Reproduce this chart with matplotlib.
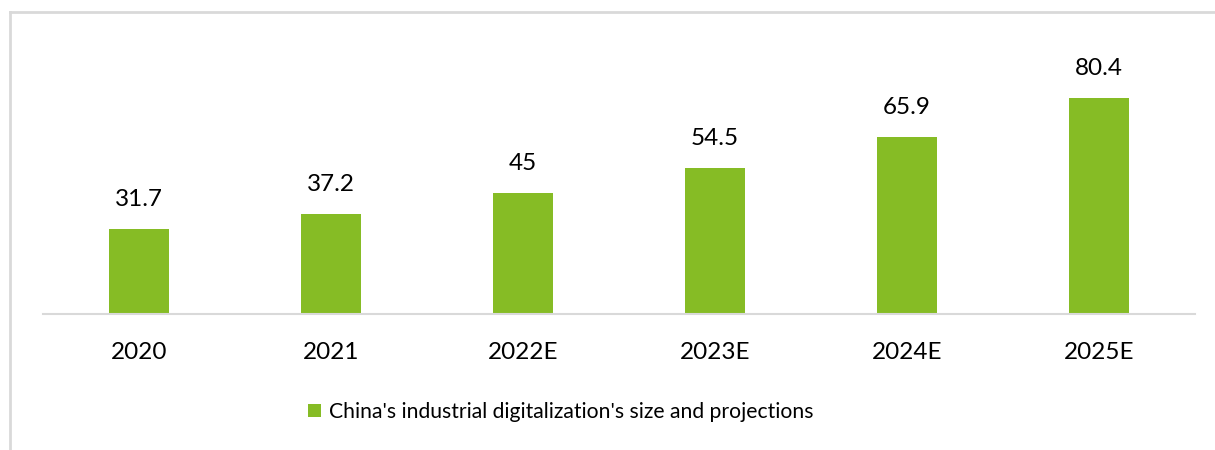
import matplotlib
matplotlib.use("Agg")
import matplotlib.pyplot as plt
from matplotlib.lines import Line2D

plt.rcParams["font.family"] = ["Lato", "DejaVu Sans"]

years = ["2020", "2021", "2022E", "2023E", "2024E", "2025E"]
sizes = [31.7, 37.2, 45, 54.5, 65.9, 80.4]
value_labels = ["31.7", "37.2", "45", "54.5", "65.9", "80.4"]
series_name = "China's industrial digitalization's size and projections"

green = "#86BC25"

fig = plt.figure(figsize=(12.15, 4.5), dpi=100)
ax = fig.add_axes([43 / 1215, 136 / 450, 1152 / 1215, 274 / 450])

x = range(len(years))
bars = ax.bar(x, sizes, width=0.31, color=green, label=series_name, zorder=2)

for rect, lab in zip(bars, value_labels):
    ax.annotate(lab, (rect.get_x() + rect.get_width() / 2, rect.get_height()),
                xytext=(0, 21), textcoords="offset points",
                ha="center", va="center", fontsize=17.5, color="#000000")

ax.set_xlim(-0.5, len(years) - 0.5)
ax.set_ylim(0, 274 / 2.687)
ax.set_xticks(list(x))
ax.set_xticklabels(years, fontsize=17.5, color="#000000")
ax.tick_params(axis="x", length=0, pad=20)
ax.set_yticks([])
for side in ["top", "right", "left"]:
    ax.spines[side].set_visible(False)
ax.spines["bottom"].set_color("#d9d9d9")
ax.spines["bottom"].set_linewidth(1.5)

fig.legend(handles=[bars], labels=[series_name], loc="center",
           bbox_to_anchor=(561 / 1215, 1 - 412 / 450), frameon=False,
           fontsize=15.2, handlelength=0.6, handleheight=0.6, handletextpad=0.4)

# light frame around the chart area (left and top edges visible)
fig.add_artist(Line2D([10 / 1215, 10 / 1215], [0, 1 - 12 / 450],
                      transform=fig.transFigure, color="#d9d9d9", lw=2))
fig.add_artist(Line2D([10 / 1215, 1], [1 - 12 / 450, 1 - 12 / 450],
                      transform=fig.transFigure, color="#d9d9d9", lw=2))

fig.savefig("out.png", dpi=100)
